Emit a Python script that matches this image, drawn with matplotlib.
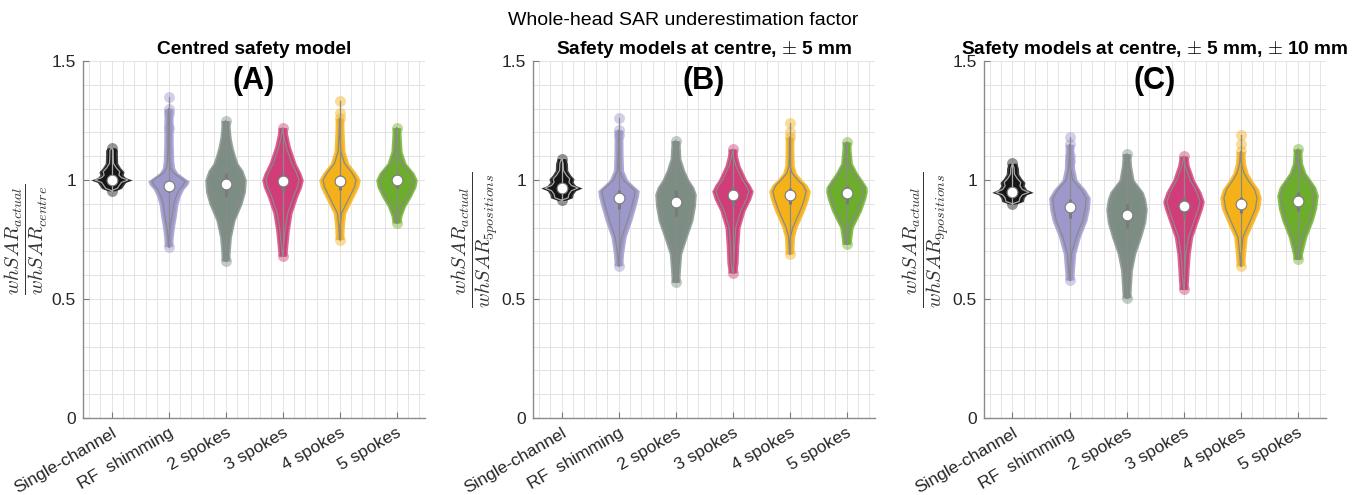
import numpy as np
import matplotlib
matplotlib.use("Agg")
import matplotlib.pyplot as plt
from matplotlib.ticker import MultipleLocator

plt.rcParams['font.family'] = ['Liberation Sans', 'DejaVu Sans']
plt.rcParams['mathtext.fontset'] = 'cm'

# ---------------------------------------------------------------- data
METHODS = ["Single-channel", "RF  shimming", "2 spokes", "3 spokes", "4 spokes", "5 spokes"]
COLORS = ["#161616", "#9d98cc", "#7c8e84", "#d13d78", "#f5b118", "#6dad2c"]

SUPTITLE = "Whole-head SAR underestimation factor"
TITLES = ["Centred safety model",
          r"Safety models at centre, $\pm$ 5 mm",
          r"Safety models at centre, $\pm$ 5 mm, $\pm$ 10 mm"]
LETTERS = ["(A)", "(B)", "(C)"]
YLABELS = [r"$\dfrac{whSAR_{actual}}{whSAR_{centre}}$",
           r"$\dfrac{whSAR_{actual}}{whSAR_{5positions}}$",
           r"$\dfrac{whSAR_{actual}}{whSAR_{9positions}}$"]
YTICKS = [0, 0.5, 1, 1.5]
YTICKLABELS = ["0", "0.5", "1", "1.5"]

# Panel A: centred safety model
MEDIAN_A = [1.0, 0.975, 0.985, 0.995, 0.995, 1.0]
BOX_A = [(0.99, 1.01), (0.95, 0.995), (0.93, 1.03), (0.95, 1.03), (0.96, 1.02), (0.965, 1.025)]
LEVELS_A = [
    [0.955, 0.965, 0.975, 0.99, 1.0, 1.01, 1.02, 1.035, 1.05, 1.07, 1.10, 1.125, 1.135],
    [0.72, 0.76, 0.80, 0.85, 0.90, 0.93, 0.96, 0.98, 0.995, 1.01, 1.03, 1.05, 1.08, 1.15, 1.25, 1.30],
    [0.66, 0.70, 0.76, 0.83, 0.90, 0.95, 1.0, 1.04, 1.07, 1.10, 1.14, 1.18, 1.22, 1.25],
    [0.68, 0.72, 0.79, 0.86, 0.93, 0.97, 1.0, 1.03, 1.07, 1.14, 1.19, 1.22],
    [0.75, 0.80, 0.86, 0.93, 0.97, 1.0, 1.03, 1.07, 1.12, 1.20, 1.26],
    [0.82, 0.85, 0.89, 0.93, 0.97, 1.0, 1.03, 1.07, 1.12, 1.18, 1.22],
]
DENSITY_A = [
    [0, 0.35, 0.45, 0.6, 1.0, 0.6, 0.45, 0.5, 0.3, 0.12, 0.1, 0.1, 0],
    [0, 0.03, 0.1, 0.22, 0.32, 0.45, 0.65, 0.9, 1.0, 0.7, 0.3, 0.12, 0.06, 0.03, 0.02, 0],
    [0, 0.03, 0.1, 0.32, 0.75, 0.95, 1.0, 0.8, 0.5, 0.35, 0.19, 0.08, 0.03, 0],
    [0, 0.06, 0.16, 0.32, 0.66, 0.9, 1.0, 0.85, 0.56, 0.22, 0.06, 0],
    [0, 0.03, 0.12, 0.62, 0.9, 1.0, 0.75, 0.3, 0.08, 0.02, 0],
    [0, 0.08, 0.3, 0.64, 0.92, 1.0, 0.8, 0.32, 0.08, 0.03, 0],
]
OUTLIERS_A = [[], [1.35, 1.28, 1.22], [], [], [1.28, 1.33], []]

# Panel B: safety models at centre and +/- 5 mm
MEDIAN_B = [0.966, 0.925, 0.909, 0.935, 0.935, 0.945]
BOX_B = [(0.955, 0.975), (0.88, 0.96), (0.85, 0.96), (0.89, 0.97), (0.9, 0.965), (0.9, 0.975)]
LEVELS_B = [
    [0.915, 0.925, 0.94, 0.955, 0.966, 0.977, 0.99, 1.005, 1.02, 1.04, 1.07, 1.09],
    [0.64, 0.69, 0.76, 0.83, 0.89, 0.93, 0.955, 0.98, 1.0, 1.04, 1.10, 1.17, 1.21],
    [0.57, 0.62, 0.69, 0.76, 0.83, 0.89, 0.94, 0.97, 1.0, 1.04, 1.09, 1.14, 1.165],
    [0.61, 0.65, 0.72, 0.80, 0.87, 0.92, 0.953, 0.98, 1.0, 1.06, 1.10, 1.13],
    [0.69, 0.72, 0.76, 0.80, 0.87, 0.92, 0.953, 0.98, 1.0, 1.03, 1.06, 1.12, 1.18],
    [0.73, 0.75, 0.80, 0.87, 0.92, 0.95, 0.97, 1.0, 1.03, 1.07, 1.12, 1.16],
]
DENSITY_B = [
    [0, 0.4, 0.45, 0.6, 1.0, 0.6, 0.45, 0.5, 0.3, 0.12, 0.1, 0],
    [0, 0.05, 0.2, 0.55, 0.8, 0.95, 1.0, 0.6, 0.3, 0.05, 0.02, 0.01, 0],
    [0, 0.04, 0.12, 0.45, 0.8, 0.95, 1.0, 0.85, 0.56, 0.3, 0.07, 0.03, 0],
    [0, 0.08, 0.12, 0.2, 0.5, 0.85, 1.0, 0.8, 0.6, 0.2, 0.05, 0],
    [0, 0.02, 0.05, 0.2, 0.64, 0.9, 1.0, 0.8, 0.5, 0.15, 0.03, 0.01, 0],
    [0, 0.05, 0.15, 0.65, 0.9, 1.0, 0.98, 0.7, 0.4, 0.1, 0.03, 0],
]
OUTLIERS_B = [[], [1.26, 1.19], [], [], [1.24, 1.20], []]

# Panel C: safety models at centre, +/- 5 mm and +/- 10 mm
MEDIAN_C = [0.949, 0.886, 0.853, 0.89, 0.90, 0.911]
BOX_C = [(0.94, 0.96), (0.84, 0.92), (0.8, 0.9), (0.84, 0.93), (0.86, 0.93), (0.87, 0.95)]
LEVELS_C = [
    [0.90, 0.91, 0.925, 0.938, 0.948, 0.96, 0.975, 0.99, 1.005, 1.025, 1.05, 1.07],
    [0.58, 0.62, 0.69, 0.76, 0.83, 0.88, 0.925, 0.96, 1.0, 1.045, 1.10, 1.15],
    [0.505, 0.55, 0.62, 0.69, 0.76, 0.82, 0.876, 0.92, 0.95, 1.0, 1.06, 1.11],
    [0.54, 0.58, 0.62, 0.69, 0.76, 0.83, 0.88, 0.91, 0.95, 1.0, 1.06, 1.10],
    [0.64, 0.69, 0.76, 0.83, 0.88, 0.925, 0.96, 1.0, 1.03, 1.07, 1.12],
    [0.667, 0.69, 0.76, 0.83, 0.88, 0.935, 0.97, 1.0, 1.03, 1.07, 1.10, 1.13],
]
DENSITY_C = [
    [0, 0.4, 0.45, 0.6, 1.0, 0.6, 0.45, 0.5, 0.3, 0.12, 0.1, 0],
    [0, 0.04, 0.12, 0.4, 0.8, 0.95, 1.0, 0.7, 0.2, 0.06, 0.01, 0],
    [0, 0.04, 0.1, 0.3, 0.65, 0.9, 1.0, 0.9, 0.75, 0.2, 0.05, 0],
    [0, 0.05, 0.08, 0.15, 0.3, 0.65, 0.9, 1.0, 0.8, 0.4, 0.1, 0],
    [0, 0.05, 0.15, 0.6, 0.9, 1.0, 0.85, 0.45, 0.2, 0.05, 0],
    [0, 0.05, 0.3, 0.7, 0.9, 1.0, 0.85, 0.55, 0.25, 0.05, 0.02, 0],
]
OUTLIERS_C = [[], [1.18, 1.10, 1.08], [], [], [1.19, 1.15], []]

PANELS = [
    (MEDIAN_A, BOX_A, LEVELS_A, DENSITY_A, OUTLIERS_A),
    (MEDIAN_B, BOX_B, LEVELS_B, DENSITY_B, OUTLIERS_B),
    (MEDIAN_C, BOX_C, LEVELS_C, DENSITY_C, OUTLIERS_C),
]

# ---------------------------------------------------------------- style
WIDTH = 0.29       # half-width of the violin outline at peak density
RIM = 0.075        # extra spread from the individual scatter markers
EDGE = "#8a8a8a"
TEXT = "#262626"


def draw_violin(ax, x, levels, density, median, box, outliers, color):
    y = np.asarray(levels)
    w = np.asarray(density) * WIDTH
    ax.fill_betweenx(y, x - w - RIM, x + w + RIM, color=color, alpha=0.8, lw=0, zorder=2)
    ax.fill_betweenx(y, x - w - 0.6 * RIM, x + w + 0.6 * RIM, color=color, alpha=1.0,
                     lw=0, zorder=3)
    edge = "#a8a8a8" if color == COLORS[0] else EDGE
    ax.plot(np.concatenate([x - w, (x + w)[::-1], [x - w[0]]]),
            np.concatenate([y, y[::-1], [y[0]]]),
            color=edge, lw=0.9, zorder=4)
    tips = [y[0], y[-1]] + list(outliers)
    ax.scatter([x] * len(tips), tips, s=62, color=color, alpha=0.45, lw=0, zorder=3)
    ax.plot([x, x], [y[0], max(tips)], color=edge, lw=0.9, zorder=4)
    ax.plot([x, x], list(box), color="#7a7a7a", lw=2.2, solid_capstyle="butt", zorder=5)
    ax.scatter([x], [median], s=60, facecolor="white", edgecolor="#7a7a7a",
               lw=0.8, zorder=6)


fig = plt.figure(figsize=(13.67, 4.95), dpi=100)
lefts = [83, 533, 984]
for i, (medians, boxes, levels, dens, outs) in enumerate(PANELS):
    ax = fig.add_axes([lefts[i] / 1367, 77 / 495, 342 / 1367, 357 / 495])
    positions = np.arange(1, len(METHODS) + 1)
    for k, xpos in enumerate(positions):
        draw_violin(ax, xpos, levels[k], dens[k], medians[k], boxes[k], outs[k], COLORS[k])

    ax.set_xlim(0.5, len(METHODS) + 0.5)
    ax.set_ylim(0, 1.5)
    ax.set_xticks(positions)
    ax.set_xticklabels(METHODS, rotation=30, ha="right", va="top",
                       rotation_mode="anchor", fontsize=12.5, color=TEXT)
    ax.set_yticks(YTICKS)
    ax.set_yticklabels(YTICKLABELS, fontsize=12.5, color=TEXT)
    ax.xaxis.set_minor_locator(MultipleLocator(0.2))
    ax.yaxis.set_minor_locator(MultipleLocator(0.1))
    ax.grid(which="both", color="#e3e3e3", lw=0.7, zorder=0)
    ax.set_axisbelow(True)
    ax.tick_params(which="major", direction="in", length=4, color="#7a7a7a", pad=5)
    ax.tick_params(which="minor", length=0)
    for side in ("top", "right"):
        ax.spines[side].set_visible(False)
    for side in ("left", "bottom"):
        ax.spines[side].set_color("#8a8a8a")
        ax.spines[side].set_linewidth(1.0)

    ax.set_title(TITLES[i], fontsize=13.8, fontweight="bold", pad=5, color="black")
    ax.text(0.5, 0.945, LETTERS[i], transform=ax.transAxes, ha="center", va="center",
            fontsize=22, fontweight="bold", color="black")
    ax.set_ylabel(YLABELS[i], fontsize=14.5, color="#333333", labelpad=1)

fig.suptitle(SUPTITLE, fontsize=14, y=0.975, color="black")
fig.savefig("out.png", dpi=100)
